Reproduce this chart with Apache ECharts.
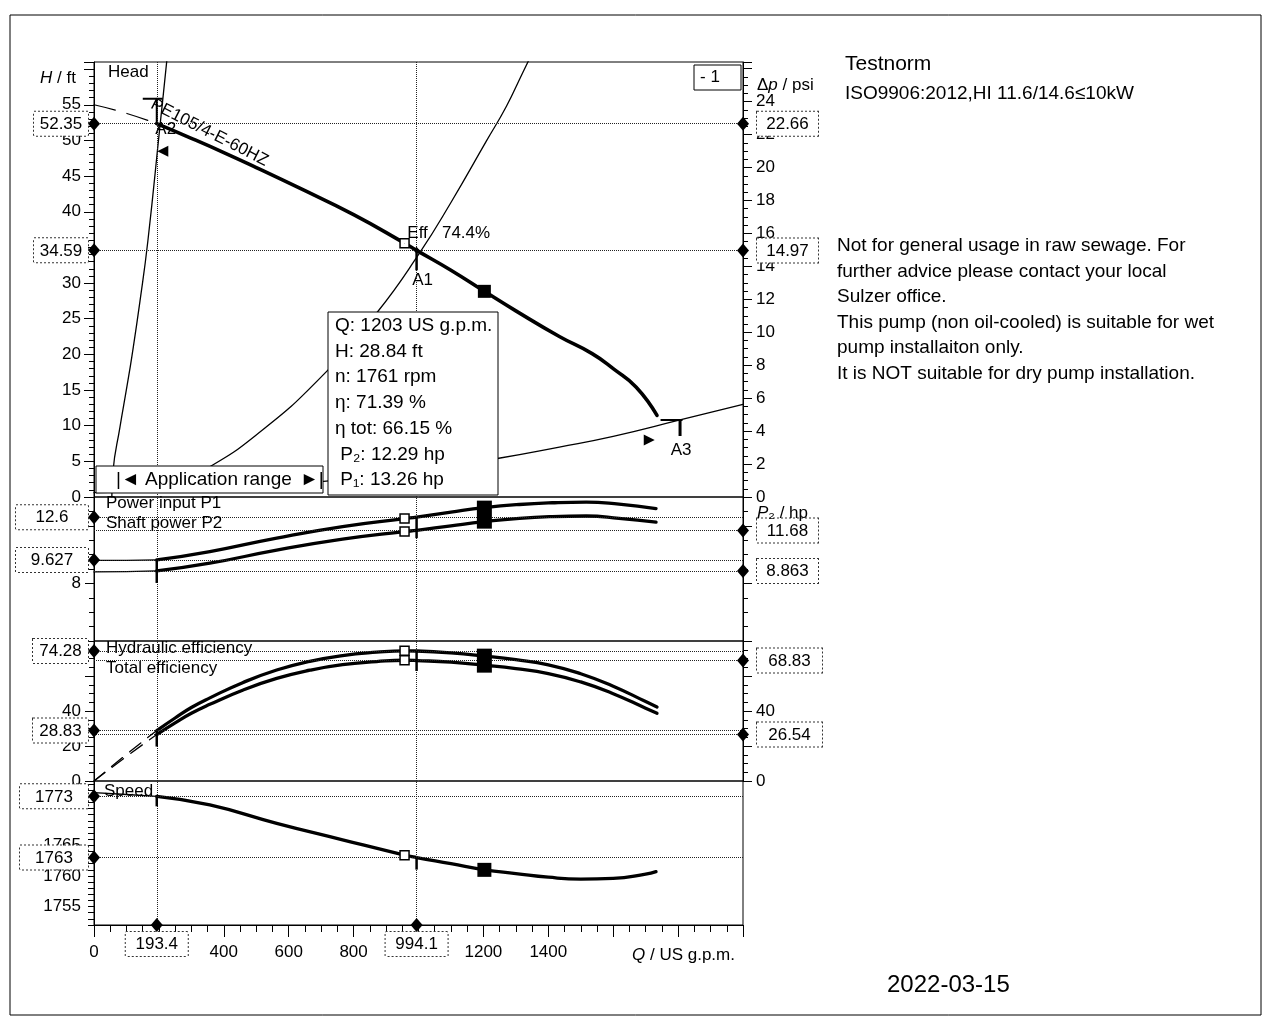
<!DOCTYPE html>
<html><head><meta charset="utf-8">
<script src="https://cdn.jsdelivr.net/npm/echarts@6/dist/echarts.min.js"></script>
<style>html,body{margin:0;padding:0;background:#fff}#c{width:1270px;height:1018px}</style>
</head><body><div id="c"></div>
<script>
const FONT = '"Liberation Sans", Arial, Helvetica, sans-serif';
const FS = 17;
const BLACK = '#000';

// ---------- tick labels ----------
const qTickLabels = [0, 400, 600, 800, 1200, 1400];
const headTickLabels = [0, 5, 10, 15, 20, 25, 30, 35, 40, 45, 50, 55];
const psiTickLabels = [0, 2, 4, 6, 8, 10, 12, 14, 16, 18, 20, 22, 24];
const powerTickLabels = [8];
const effTickLabelsLeft = [0, 20, 40];
const effTickLabelsRight = [0, 40];
const speedTickLabels = [1755, 1760, 1765];
const ftPerPsi = 2.31;

// ---------- head curve (Q in US gpm, H in ft) ----------
const headExtQ = [0, 100, 193.4];
const headExtH = [55.0, 53.8, 52.35];
const headQ = [193.4, 300, 400, 500, 634, 800, 957, 994.1, 1100, 1203, 1300, 1434, 1535, 1603, 1671, 1735];
const headH = [52.35, 50.3, 48.3, 46.2, 43.3, 39.6, 35.6, 34.59, 31.8, 28.84, 26.1, 22.5, 20.1, 17.9, 15.4, 11.45];

// ---------- system curves ----------
const sys1Q = [55, 58.5, 80, 101.5, 117, 141.5, 166, 203, 224.6, 230];
const sys1H = [0, 3.6, 9.8, 15.5, 19.8, 27.4, 35.9, 51.9, 61.3, 64];
const sys2Q = [300, 348, 500, 695, 871, 1003, 1100, 1209, 1271, 1320, 1350];
const sys2H = [3.3, 4.0, 8.7, 16.6, 25.8, 34.2, 41.3, 49.9, 54.8, 59.4, 62.2];
const sys3Q = [0, 400, 800, 1000, 1243, 1434, 1600, 1806, 2000];
const sys3H = [0.6, 1.1, 2.6, 3.7, 5.4, 7.0, 8.5, 10.8, 13.0];

// ---------- power (hp) ----------
const powExtQ = [0, 100, 193.4];
const p1Ext = [9.60, 9.60, 9.627];
const p2Ext = [8.80, 8.82, 8.863];
const powQ = [193.4, 357, 563, 766, 957, 994.1, 1100, 1203, 1311, 1412, 1517, 1618, 1732];
const p1 = [9.627, 10.21, 11.15, 11.95, 12.5, 12.6, 12.95, 13.26, 13.48, 13.6, 13.65, 13.5, 13.2];
const p2 = [8.863, 9.40, 10.31, 11.07, 11.6, 11.68, 12.0, 12.29, 12.52, 12.64, 12.68, 12.52, 12.25];

// ---------- efficiency (%) ----------
const effExtQ = [0, 100, 193.4];
const etaExt = [0, 15.2, 28.83];
const etaTotExt = [0, 14.0, 26.54];
const effQ = [193.4, 250, 300, 357, 458, 563, 665, 766, 871, 957, 994.1, 1100, 1203, 1300, 1400, 1500, 1600, 1700, 1735];
const eta = [28.83, 36.0, 42.0, 47.5, 56.2, 63.4, 68.4, 71.7, 73.6, 74.4, 74.28, 73.2, 71.39, 69.3, 66.4, 61.3, 54.2, 45.4, 42.3];
const etaTot = [26.54, 33.2, 38.7, 43.8, 51.9, 58.6, 63.3, 66.5, 68.2, 69.0, 68.83, 67.9, 66.15, 64.2, 61.4, 56.6, 49.9, 41.6, 38.7];

// ---------- speed (rpm) ----------
const speedExtQ = [0, 100, 193.4];
const speedExt = [1773.6, 1773.3, 1773];
const speedQ = [193.4, 357, 563, 766, 957, 994.1, 1100, 1203, 1300, 1400, 1500, 1600, 1700, 1732];
const speed = [1773, 1771.6, 1768.6, 1765.9, 1763.4, 1763, 1762, 1761, 1760.4, 1759.8, 1759.5, 1759.6, 1760.3, 1760.7];

// ---------- operating points: [A2, A1] ----------
const pointQ = [193.4, 994.1];
const pointH = [52.35, 34.59];
const pointPsi = [22.66, 14.97];
const pointP1 = [9.627, 12.6];
const pointP2 = [8.863, 11.68];
const pointEta = [28.83, 74.28];
const pointEtaTot = [26.54, 68.83];
const pointSpeed = [1773, 1763];
const a3Q = 1806, a3H = 10.8;
const appStart = [212, 48.5];
const appEnd = [1711, 8.0];
const curveLabelAt = [356, 51.1];

// best efficiency point
const bepQ = 957, bepEtaMax = 74.4;
const bepH = 35.6, bepP1 = 12.5, bepP2 = 11.6, bepEta = 74.4, bepEtaTot = 69.0, bepN = 1763.4;

// duty point
const dutyQ = 1203, dutyH = 28.84, dutyN = 1761, dutyEta = 71.39, dutyEtaTot = 66.15, dutyP2 = 12.29, dutyP1 = 13.26;

// ---------- helpers ----------
const pairs = (xs, ys) => xs.map((x, i) => [x, ys[i]]);
const filt = list => v => list.some(t => Math.abs(t - v) < 1e-6) ? String(v) : '';

function L(xi, yi, xs, ys, w, dash) {
  return {type: 'line', xAxisIndex: xi, yAxisIndex: yi, data: pairs(xs, ys), showSymbol: false, symbol: 'none',
    smooth: 0.5, silent: true, animation: false, z: 3,
    lineStyle: {color: BLACK, width: w, type: dash || 'solid', cap: 'round', join: 'round', opacity: 1}};
}
function S(xi, yi, data, symbol, size, extra) {
  return Object.assign({type: 'scatter', xAxisIndex: xi, yAxisIndex: yi, data: data, symbol: symbol, symbolSize: size,
    itemStyle: {color: BLACK, opacity: 1}, clip: false, silent: true, animation: false, z: 5}, extra || {});
}
function boxLabel(side, w) {
  const pos = side === 'left' ? {position: [0, 7], align: 'right', verticalAlign: 'middle'}
    : side === 'right' ? {position: [20, 7], align: 'left', verticalAlign: 'middle'}
    : {position: [6, 14], align: 'center', verticalAlign: 'top'};
  return Object.assign({show: true, formatter: p => '{t|' + p.data[2] + '}',
    backgroundColor: '#fff', borderColor: '#333', borderWidth: 1, borderType: 'dotted', padding: [3, 0, 2, 0],
    rich: {t: {width: w, align: 'center', fontSize: FS, fontFamily: FONT, color: BLACK, lineHeight: 19}}}, pos);
}
function refLines(vals) {
  return {symbol: 'none', silent: true, animation: false, label: {show: false},
    lineStyle: {type: 'dotted', color: '#222', width: 1, opacity: 1},
    data: vals.map(v => ({yAxis: v})).concat(pointQ.map(q => ({xAxis: q})))};
}
const DIA = [12, 14];
const HOLLOW = {color: '#fff', borderColor: BLACK, borderWidth: 1.5, opacity: 1};
const stem = 'path://M0,0H2V10H0Z';
function stemS(xi, yi, x, y, len) {
  return S(xi, yi, [[x, y]], stem, [2.5, len], {symbolOffset: [0, len / 2]});
}
function txtS(xi, yi, x, y, text, offset, extra) {
  return S(xi, yi, [[x, y]], 'circle', 0.5, {z: 6,
    label: Object.assign({show: true, position: 'inside', offset: offset, opacity: 1,
    textBorderWidth: 0, textShadowBlur: 0,
    formatter: '{t|' + text + '}', rich: {t: {color: BLACK, fontSize: (extra && extra.fontSize) || FS, fontFamily: FONT}},
    fontSize: FS, fontFamily: FONT, color: BLACK}, extra || {})});
}

// ---------- axes ----------
const grids = [
  {top: 62, height: 435}, {top: 497, height: 144}, {top: 641, height: 140}, {top: 781, height: 144}
].map(g => Object.assign({left: 94, width: 649, show: true, borderColor: BLACK, borderWidth: 1,
  backgroundColor: 'transparent', containLabel: false, outerBoundsMode: 'none'}, g));

const xAxes = [0, 1, 2, 3].map(i => ({
  type: 'value', gridIndex: i, min: 0, max: 2000, interval: 200,
  axisLine: {show: i === 3, onZero: false, lineStyle: {color: BLACK}},
  axisTick: {show: i === 3, length: 12, lineStyle: {color: BLACK}},
  minorTick: {show: i === 3, splitNumber: 4, length: 7, lineStyle: {color: BLACK}},
  axisLabel: {show: i === 3, formatter: filt(qTickLabels), fontSize: FS, fontFamily: FONT, color: BLACK, margin: 19},
  splitLine: {show: false}, minorSplitLine: {show: false}
}));

function yAx(grid, pos, min, max, interval, split, labels, majorLen, minorLen, showLabels) {
  return {type: 'value', gridIndex: grid, position: pos, min: min, max: max, interval: interval,
    axisLine: {show: true, onZero: false, lineStyle: {color: BLACK}},
    axisTick: {show: true, length: majorLen, lineStyle: {color: BLACK}},
    minorTick: {show: split > 0, splitNumber: split || 1, length: minorLen, lineStyle: {color: BLACK}},
    axisLabel: {show: showLabels !== false, formatter: filt(labels), fontSize: FS, fontFamily: FONT, color: BLACK, margin: 13},
    splitLine: {show: false}, minorSplitLine: {show: false}};
}
const yAxes = [
  yAx(0, 'left', 0, 61, 5, 5, headTickLabels, 10, 5),
  yAx(0, 'right', 0, 61 / ftPerPsi, 2, 4, psiTickLabels, 9, 5),
  yAx(1, 'left', 4, 14, 4, 4, powerTickLabels, 9, 5),
  yAx(1, 'right', 4, 14, 4, 4, [], 9, 5, false),
  yAx(2, 'left', 0, 80, 20, 4, effTickLabelsLeft, 9, 5),
  yAx(2, 'right', 0, 80, 20, 4, effTickLabelsRight, 9, 5),
  yAx(3, 'left', 1752, 1775.5, 1, 0, speedTickLabels, 6, 3)
];

// ---------- series ----------
const series = [
  // head panel
  L(0, 0, headExtQ, headExtH, 1.2, [22, 12]),
  L(0, 0, headQ, headH, 3.6),
  L(0, 0, sys1Q, sys1H, 1.3),
  L(0, 0, sys2Q, sys2H, 1.3),
  L(0, 0, sys3Q, sys3H, 1.3),
  // power panel
  L(1, 2, powExtQ, p1Ext, 1.3), L(1, 2, powExtQ, p2Ext, 1.3),
  L(1, 2, powQ, p1, 3.3), L(1, 2, powQ, p2, 3.3),
  // efficiency panel
  L(2, 4, effExtQ, etaExt, 1.3, [14, 9]), L(2, 4, effExtQ, etaTotExt, 1.3, [14, 9]),
  L(2, 4, effQ, eta, 3.3), L(2, 4, effQ, etaTot, 3.3),
  // speed panel
  L(3, 6, speedExtQ, speedExt, 1.3), L(3, 6, speedQ, speed, 3.3),

  // diamonds, value boxes and reference lines
  S(0, 0, pointH.map(v => [0, v, String(v)]), 'diamond', DIA, {label: boxLabel('left', 54), markLine: refLines(pointH)}),
  S(0, 1, pointPsi.map(v => [2000, v, String(v)]), 'diamond', DIA, {label: boxLabel('right', 61)}),
  S(1, 2, pointP1.slice().reverse().map(v => [0, v, String(v)]), 'diamond', DIA, {label: boxLabel('left', 72), markLine: refLines(pointP1.concat(pointP2))}),
  S(1, 3, pointP2.slice().reverse().map(v => [2000, v, String(v)]), 'diamond', DIA, {label: boxLabel('right', 61)}),
  S(2, 4, pointEta.slice().reverse().map(v => [0, v, String(v)]), 'diamond', DIA, {label: boxLabel('left', 55), markLine: refLines(pointEta.concat(pointEtaTot))}),
  S(2, 5, pointEtaTot.slice().reverse().map(v => [2000, v, String(v)]), 'diamond', DIA, {label: boxLabel('right', 65)}),
  S(3, 6, pointSpeed.map(v => [0, v, String(v)]), 'diamond', DIA, {label: boxLabel('left', 68), markLine: refLines(pointSpeed)}),
  S(3, 6, pointQ.map(q => [q, 1752, String(q)]), 'diamond', DIA, {label: boxLabel('bottom', 62)}),

  // best efficiency point (hollow squares)
  S(0, 0, [[bepQ, bepH]], 'rect', 9, {itemStyle: HOLLOW}),
  S(1, 2, [[bepQ, bepP1], [bepQ, bepP2]], 'rect', 9, {itemStyle: HOLLOW}),
  S(2, 4, [[bepQ, bepEta], [bepQ, bepEtaTot]], 'rect', 9, {itemStyle: HOLLOW}),
  S(3, 6, [[bepQ, bepN]], 'rect', 9, {itemStyle: HOLLOW}),
  txtS(0, 0, bepQ, bepH, 'Eff   ' + bepEtaMax + '%', [0, 0], {position: [3, -10], align: 'left', verticalAlign: 'middle'}),

  // duty point (filled squares)
  S(0, 0, [[dutyQ, dutyH]], 'rect', 13),
  S(1, 2, [[dutyQ, (dutyP1 + dutyP2) / 2]], 'rect', [15, 28]),
  S(2, 4, [[dutyQ, (dutyEta + dutyEtaTot) / 2]], 'rect', [15, 24]),
  S(3, 6, [[dutyQ, dutyN]], 'rect', 14),

  // A-markers
  S(0, 0, [[pointQ[0], pointH[0]]], 'path://M0,0H20V2H0Z M13,0H15V26H13Z', [20, 26], {symbolOffset: [-4, -13]}),
  stemS(0, 0, pointQ[1], pointH[1], 20),
  S(0, 0, [[pointQ[1], pointH[1]]], 'diamond', [6, 7]),
  S(0, 0, [[a3Q, a3H]], 'path://M0,0H22V2H0Z M18,0H21V17H18Z', [22, 17], {symbolOffset: [-8.5, 7.5]}),
  stemS(1, 2, pointQ[0], pointP1[0], 23), stemS(1, 2, pointQ[1], pointP1[1], 21),
  stemS(2, 4, pointQ[0], pointEta[0], 16), stemS(2, 4, pointQ[1], pointEta[1], 20),
  stemS(3, 6, pointQ[0], pointSpeed[0], 10), stemS(3, 6, pointQ[1], pointSpeed[1], 12),
  S(0, 0, [appStart], 'triangle', [11, 11], {symbolRotate: 90}),
  S(0, 0, [appEnd], 'triangle', [11, 11], {symbolRotate: -90}),
  txtS(0, 0, pointQ[0], pointH[0], 'A2', [9, 6]),
  txtS(0, 0, pointQ[1], pointH[1], 'A1', [6, 30]),
  txtS(0, 0, a3Q, a3H, 'A3', [1, 30]),
  txtS(0, 0, curveLabelAt[0], curveLabelAt[1], 'PE105/4-E-60HZ', [0, 0], {rotate: -27, fontSize: 17})
];

// ---------- static texts ----------
function T(x, y, text, size, style) {
  return {type: 'text', x: x, y: y, z: 100, silent: true,
    style: Object.assign({text: text, fontSize: size, fontFamily: FONT, fill: BLACK, align: 'left', verticalAlign: 'middle'}, style || {})};
}
function R(x, y, w, h, style) {
  return {type: 'rect', z: 99, silent: true, shape: {x: x, y: y, width: w, height: h},
    style: Object.assign({fill: '#fff', stroke: BLACK, lineWidth: 1}, style || {})};
}
const ital = size => ({i: {fontStyle: 'italic', fontSize: size, fontFamily: FONT, fill: BLACK}});
const tipLines = ['Q: ' + dutyQ + ' US g.p.m.', 'H: ' + dutyH + ' ft', 'n: ' + dutyN + ' rpm', 'η: ' + dutyEta + ' %',
  'η tot: ' + dutyEtaTot + ' %', ' P₂: ' + dutyP2 + ' hp', ' P₁: ' + dutyP1 + ' hp'];
const noteLines = ['Not for general usage in raw sewage. For', 'further advice please contact your local', 'Sulzer office.',
  'This pump (non oil-cooled) is suitable for wet', 'pump installaiton only.', 'It is NOT suitable for dry pump installation.'];

const graphics = [
  R(10, 15, 1251, 1000, {fill: 'none'}),
  T(40, 78, '{i|H} / ft', FS, {rich: ital(FS)}),
  T(108, 72, 'Head', FS),
  R(694, 65, 47, 25),
  T(700, 77, '- 1', FS),
  T(757, 85, 'Δ{i|p} / psi', FS, {rich: ital(FS)}),
  T(757, 513, '{i|P}₂ / hp', FS, {rich: ital(FS)}),
  T(106, 503, 'Power input P1', FS),
  T(106, 523, 'Shaft power P2', FS),
  T(106, 648, 'Hydraulic efficiency', FS),
  T(106, 668, 'Total efficiency', FS),
  T(104, 791, 'Speed', FS),
  R(96, 466, 227, 27),
  T(116, 480, '|◄', 19),
  T(145, 480, 'Application range', 19),
  T(300, 480, '►|', 19),
  R(328, 312, 170, 183),
  T(335, 313, tipLines.join('\n'), 19, {verticalAlign: 'top', lineHeight: 25.7}),
  T(632, 955, '{i|Q} / US g.p.m.', FS, {rich: ital(FS)}),
  T(845, 64, 'Testnorm', 21),
  T(845, 94, 'ISO9906:2012,HI 11.6/14.6≤10kW', 19),
  T(837, 233, noteLines.join('\n'), 19, {verticalAlign: 'top', lineHeight: 25.6}),
  T(887, 985, '2022-03-15', 24)
];

const chart = echarts.init(document.getElementById('c'), null, {renderer: 'canvas'});
chart.setOption({
  animation: false,
  backgroundColor: '#fff',
  textStyle: {fontFamily: FONT},
  grid: grids,
  xAxis: xAxes,
  yAxis: yAxes,
  series: series,
  graphic: {elements: graphics}
});
</script>
</body></html>
